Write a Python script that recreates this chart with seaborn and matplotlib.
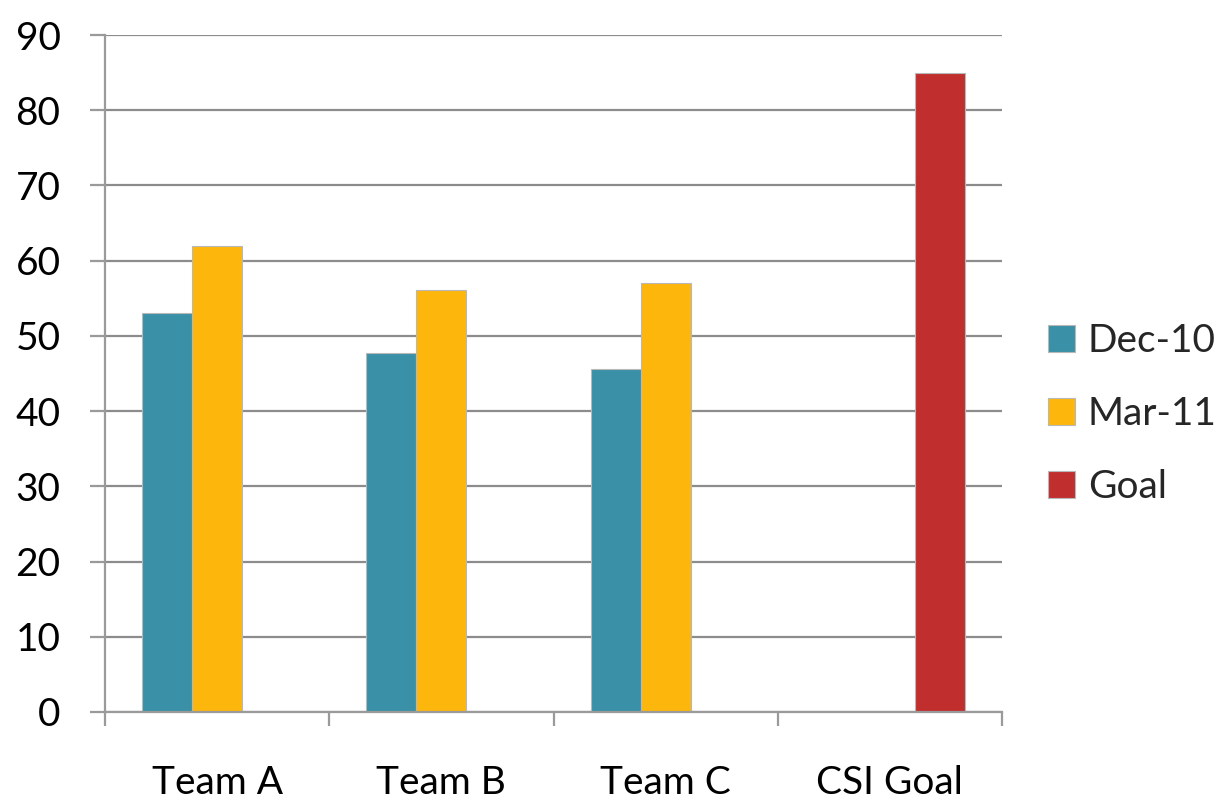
import matplotlib
matplotlib.use("Agg")
import matplotlib.pyplot as plt
import matplotlib.ticker as mticker
import seaborn as sns
import pandas as pd

categories = ["Team A", "Team B", "Team C", "CSI Goal"]
series = ["Dec-10", "Mar-11", "Goal"]
dec10 = [53, 47.7, 45.6]
mar11 = [62, 56.1, 57]
goal = [85]
colors = ["#3A91A7", "#FDB60B", "#C12E2E"]

rows = []
for c, v in zip(categories[:3], dec10):
    rows.append((c, "Dec-10", v))
for c, v in zip(categories[:3], mar11):
    rows.append((c, "Mar-11", v))
rows.append((categories[3], "Goal", goal[0]))
df = pd.DataFrame(rows, columns=["cat", "series", "value"])

sns.set_theme(style="white")
plt.rcParams['font.family'] = ['Lato', 'DejaVu Sans']

fig = plt.figure(figsize=(12.3, 8.02), dpi=100)
ax = fig.add_axes([105/1230, 1-712/802, (1002-105)/1230, (712-35)/802])

sns.barplot(data=df, x="cat", y="value", hue="series", order=categories,
            hue_order=series, palette=colors, width=0.67, ax=ax,
            edgecolor="#b8b8b8", linewidth=0.8, saturation=1, errorbar=None)

ax.set_ylim(0, 90)
ax.set_xlim(-0.5, 3.5)
ax.yaxis.set_major_locator(mticker.MultipleLocator(10))
ax.grid(axis="y", color="#8c8c8c", linewidth=1.6)
ax.set_axisbelow(True)
ax.set_xlabel("")
ax.set_ylabel("")

for s in ["top", "right"]:
    ax.spines[s].set_visible(False)
for s in ["left", "bottom"]:
    ax.spines[s].set_color("#9a9a9a")
    ax.spines[s].set_linewidth(1.6)

ax.tick_params(axis="y", which="major", length=11, width=1.6, color="#9a9a9a",
               pad=21, labelsize=28, left=True, labelcolor="black")
ax.set_xticks([-0.5, 0.5, 1.5, 2.5, 3.5])
ax.set_xticklabels([])
ax.set_xticks(range(len(categories)), minor=True)
ax.set_xticklabels(categories, minor=True)
ax.tick_params(axis="x", which="major", length=10, width=1.6, color="#9a9a9a",
               bottom=True, direction="out")
ax.tick_params(axis="x", which="minor", length=0, pad=38, labelsize=28,
               labelcolor="black")

leg = ax.legend(loc="center left", bbox_to_anchor=(1.012, 0.44), frameon=False,
                fontsize=28, handlelength=0.7, handleheight=0.7,
                handletextpad=0.33, labelspacing=0.95)

fig.savefig("out.png", dpi=100)
